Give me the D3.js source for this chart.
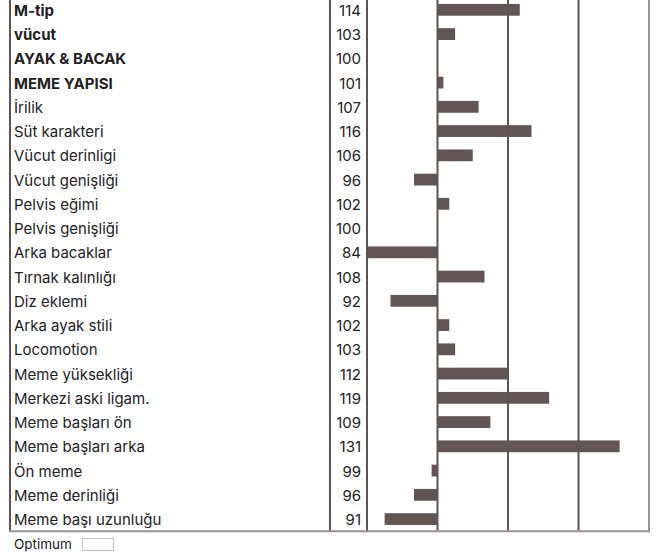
<!DOCTYPE html>
<html>
<head>
<meta charset="utf-8">
<script src="https://cdn.jsdelivr.net/npm/d3@7"></script>
<style>
  body { margin: 0; background: #fff; }
  svg { display: block; }
  text { font-family: Inter, "Noto Sans", sans-serif; fill: #222; }
</style>
</head>
<body>
<svg id="chart" width="667" height="558"></svg>
<script>
const labels = ["M-tip","vücut","AYAK & BACAK","MEME YAPISI","İrilik","Süt karakteri","Vücut derinligi","Vücut genişliği","Pelvis eğimi","Pelvis genişliği","Arka bacaklar","Tırnak kalınlığı","Diz eklemi","Arka ayak stili","Locomotion","Meme yüksekliği","Merkezi aski ligam.","Meme başları ön","Meme başları arka","Ön meme","Meme derinliği","Meme başı uzunluğu"];
const values = [114,103,100,101,107,116,106,96,102,100,84,108,92,102,103,112,119,109,131,99,96,91];
const boldRows = [0,1,2,3];
const gridTicks = [100,112,124];
const domainX = [88,136];
const legendLabel = "Optimum";

const svg = d3.select("#chart");
const tableTop = -2.3, rowH = 24.25;
const n = labels.length;
const y = d3.scaleBand().domain(d3.range(n)).range([tableTop, tableTop + n*rowH]).paddingInner(0).paddingOuter(0);
const x = d3.scaleLinear().domain(domainX).range([367, 649]);
const tableBottom = tableTop + n*rowH;
const lineCol = "#5f5454";
const barCol = "#625555";

// bars
svg.append("g").selectAll("rect").data(values).join("rect")
  .attr("x", d => x(Math.max(domainX[0], Math.min(d, 100))))
  .attr("width", d => Math.abs(x(Math.max(domainX[0], d)) - x(100)))
  .attr("y", (d,i) => y(i) + rowH/2 - 5.9)
  .attr("height", 11.8)
  .attr("fill", barCol);

// grid lines
svg.append("g").selectAll("line").data(gridTicks).join("line")
  .attr("x1", d => x(d)).attr("x2", d => x(d))
  .attr("y1", tableTop).attr("y2", tableBottom)
  .attr("stroke", lineCol).attr("stroke-width", 2);

// column dividers
[10, 330, x(domainX[0])].forEach(xx => {
  svg.append("line").attr("x1", xx).attr("x2", xx).attr("y1", tableTop).attr("y2", tableBottom)
    .attr("stroke", lineCol).attr("stroke-width", 2);
});
// right & bottom border
svg.append("line").attr("x1", x(domainX[1])).attr("x2", x(domainX[1])).attr("y1", tableTop).attr("y2", tableBottom+1)
  .attr("stroke", "#9c9292").attr("stroke-width", 2);
svg.append("line").attr("x1", 9).attr("x2", x(domainX[1])+1).attr("y1", tableBottom).attr("y2", tableBottom)
  .attr("stroke", "#9c9292").attr("stroke-width", 2);

// labels
svg.append("g").selectAll("text").data(labels).join("text")
  .attr("x", 14)
  .attr("y", (d,i) => y(i) + rowH/2 + 6)
  .attr("font-size", 15)
  .attr("font-weight", (d,i) => boldRows.includes(i) ? 700 : 400)
  .text(d => d);

// values
svg.append("g").selectAll("text").data(values).join("text")
  .attr("x", 361)
  .attr("y", (d,i) => y(i) + rowH/2 + 6)
  .attr("font-size", 15)
  .attr("text-anchor", "end")
  .text(d => d);

// legend
svg.append("text").attr("x", 14).attr("y", 549).attr("font-size", 13.5).text(legendLabel);
svg.append("rect").attr("x", 82.5).attr("y", 538.5).attr("width", 31).attr("height", 12)
  .attr("fill", "#fff").attr("stroke", "#c8c2c2").attr("stroke-width", 1.2);
</script>
</body>
</html>
